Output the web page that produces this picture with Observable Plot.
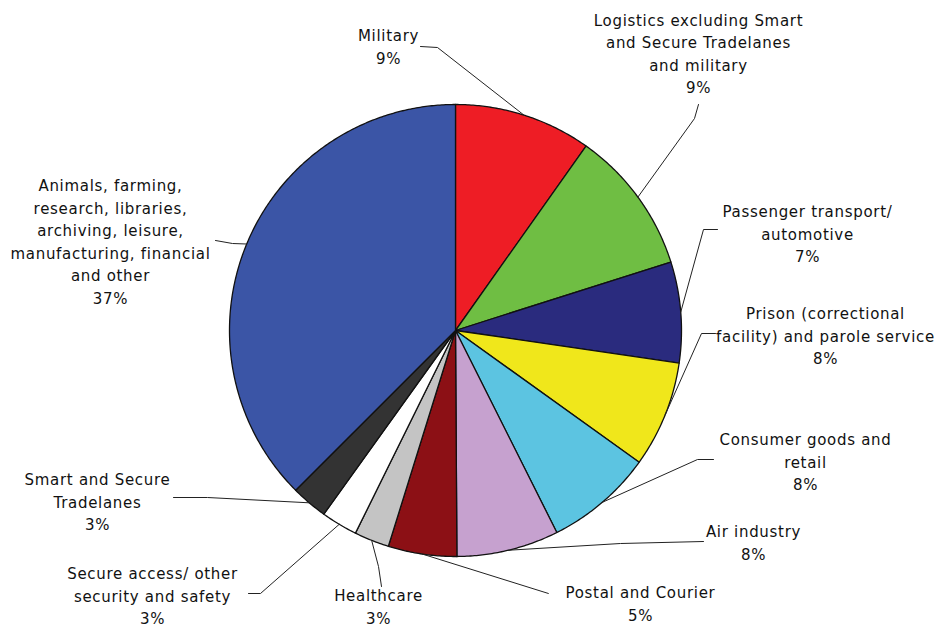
<!DOCTYPE html>
<html>
<head>
<meta charset="utf-8">
<script src="https://cdn.jsdelivr.net/npm/d3@7"></script>
<script src="https://cdn.jsdelivr.net/npm/@observablehq/plot@0.6"></script>
<style>
  html, body { margin: 0; padding: 0; background: #fff; }
  #chart svg { display: block; }
  #chart text { letter-spacing: 0.7px; }
</style>
</head>
<body>
<div id="chart"></div>
<script>
// ---- data (clockwise from 12 o'clock) ----
const names = [
  "Military",
  "Logistics excluding Smart and Secure Tradelanes and military",
  "Passenger transport/automotive",
  "Prison (correctional facility) and parole service",
  "Consumer goods and retail",
  "Air industry",
  "Postal and Courier",
  "Healthcare",
  "Secure access/other security and safety",
  "Smart and Secure Tradelanes",
  "Animals, farming, research, libraries, archiving, leisure, manufacturing, financial and other"
];
// slice shares as drawn (percent)
const shares = [9.8, 10.3, 7.2, 7.6, 7.7, 7.3, 4.9, 2.5, 2.6, 2.6, 37.5];
// printed percentage labels
const pctLabels = ["9%", "9%", "7%", "8%", "8%", "8%", "5%", "3%", "3%", "3%", "37%"];
// label text lines as printed
const labelLines = [
  ["Military"],
  ["Logistics excluding Smart", "and Secure Tradelanes", "and military"],
  ["Passenger transport/", "automotive"],
  ["Prison (correctional", "facility) and parole service"],
  ["Consumer goods and", "retail"],
  ["Air industry"],
  ["Postal and Courier"],
  ["Healthcare"],
  ["Secure access/ other", "security and safety"],
  ["Smart and Secure", "Tradelanes"],
  ["Animals, farming,", "research, libraries,", "archiving, leisure,", "manufacturing, financial", "and other"]
];
const sliceColors = ["#ee1d25", "#6fbe43", "#2a2b7e", "#f0e71b", "#5cc4e1",
  "#c6a1cf", "#8c1015", "#c4c4c4", "#ffffff", "#333333", "#3b55a6"];

// ---- layout (pixels) ----
const W = 940, H = 632;
const CX = 455, CY = 330, R = 226;
// label block centres
const labelPos = [
  [388, 45], [698, 52], [807, 232], [825, 334], [805, 460], [753, 541],
  [640, 602], [378, 605], [152, 594], [97, 500], [110, 240]
];
// leader start and elbow points
const leaderStart = [
  [420, 46], [698, 104], [717, 229], [715, 333], [713, 459], [703, 541],
  [548, 593], [381, 586], [248, 593], [173, 497], [215, 240]
];
const leaderElbow = [
  [437, 47], [694, 118], [703, 229], [701, 333], [697, 459], [620, 543],
  [548, 593], [378, 566], [260, 593], [207, 497], [232, 243]
];

// ---- geometry derived from shares ----
const total = d3.sum(shares);
let acc = 0;
const slices = shares.map((v, i) => {
  const a0 = acc / total * 2 * Math.PI;
  acc += v;
  const a1 = acc / total * 2 * Math.PI;
  return {name: names[i], i, a0, a1, mid: (a0 + a1) / 2};
});
const pt = (a, r) => [CX + r * Math.sin(a), CY - r * Math.cos(a)];

const polyPts = [];
for (const s of slices) {
  const [cx, cy] = pt(0, 0);
  polyPts.push({name: s.name, x: cx, y: cy});
  const n = Math.max(2, Math.ceil((s.a1 - s.a0) / (Math.PI / 360)));
  for (let k = 0; k <= n; k++) {
    const a = s.a0 + (s.a1 - s.a0) * k / n;
    const [x, y] = pt(a, R);
    polyPts.push({name: s.name, x, y});
  }
}

const leaderPts = [];
slices.forEach((s, i) => {
  const [ex, ey] = pt(s.mid, R);
  leaderPts.push({k: i, x: leaderStart[i][0], y: leaderStart[i][1]});
  leaderPts.push({k: i, x: leaderElbow[i][0], y: leaderElbow[i][1]});
  leaderPts.push({k: i, x: ex, y: ey});
});

const labels = slices.map((s, i) => ({
  x: labelPos[i][0], y: labelPos[i][1],
  text: [...labelLines[i], pctLabels[i]].join("\n")
}));

const chart = Plot.plot({
  width: W, height: H,
  margin: 0,
  x: {domain: [0, W], range: [0, W], axis: null},
  y: {domain: [0, H], range: [0, H], axis: null},
  color: {domain: names, range: sliceColors},
  style: {background: "#fff", fontFamily: "'DejaVu Sans', sans-serif"},
  marks: [
    Plot.line(polyPts, {x: "x", y: "y", z: "name", fill: "name", curve: "linear-closed",
      stroke: "#111", strokeWidth: 1.3, strokeLinejoin: "round"}),
    Plot.line(leaderPts, {x: "x", y: "y", z: "k", stroke: "#222", strokeWidth: 1}),
    Plot.text(labels, {x: "x", y: "y", text: "text", fontSize: 15, lineHeight: 1.5,
      lineAnchor: "middle", textAnchor: "middle", fill: "#111"})
  ]
});
document.getElementById("chart").appendChild(chart);
</script>
</body>
</html>
